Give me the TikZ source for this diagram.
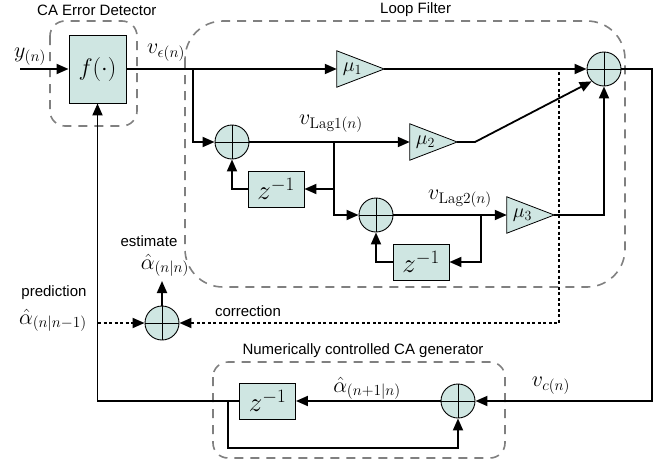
\documentclass[tikz,border=0pt]{standalone}
\usepackage{fix-cm}
\usepackage[no-math]{fontspec}
\setmainfont{Liberation Sans}
\usetikzlibrary{shapes.geometric,arrows.meta}
\definecolor{boxfill}{RGB}{207,230,226}
\definecolor{dashgray}{RGB}{128,128,128}
\begin{document}
\begin{tikzpicture}[x=1pt,y=-1pt,
  conn/.style={line width=1.8pt},
  arr/.style={conn,-{Triangle[length=12pt,width=10pt]}},
  dotarr/.style={arr,dash pattern=on 3pt off 2.5pt},
  grp/.style={draw=dashgray,line width=1.6pt,dash pattern=on 9pt off 7pt},
  blk/.style={draw,fill=boxfill,line width=0.9pt,inner sep=0pt},
  zb/.style={blk,minimum width=56pt,minimum height=36pt,font=\fontsize{27}{30}\selectfont},
  sum/.style={circle,draw,fill=boxfill,line width=0.9pt,minimum size=34pt,inner sep=0pt,
    path picture={\draw[line width=0.9pt] (path picture bounding box.north) -- (path picture bounding box.south)
      (path picture bounding box.west) -- (path picture bounding box.east);}},
  amp/.style={inner sep=0pt,minimum width=47pt,minimum height=36pt},
  ampdraw/.style={draw,fill=boxfill,line width=0.8pt,line join=miter},
  mu/.style={inner sep=0pt,font=\fontsize{20}{24}\selectfont},
  lab/.style={inner sep=0pt,font=\fontsize{22}{25}\selectfont},
  txt/.style={inner sep=0pt,font=\fontsize{15}{18}\selectfont}]
\useasboundingbox (0,0) rectangle (662,461);
% group boxes
\draw[grp,rounded corners=15pt] (50,21) rectangle (137,126);
\draw[grp,rounded corners=38pt] (185,21) rectangle (625,287);
\draw[grp,rounded corners=15pt] (213,362) rectangle (505,458);
% titles
\node[txt,anchor=west] (tca) at (37,10) {CA Error Detector};
\node[txt,anchor=west] (tlf) at (380,10) {Loop Filter};
\node[txt] (tnc) at (363,351) {Numerically controlled CA generator};
\node[txt] (tcor) at (248,311) {correction};
\node[txt] (test) at (149,241) {estimate};
\node[txt] (tpre) at (54,293) {prediction};
% blocks
\node[blk,minimum width=57pt,minimum height=68pt,font=\fontsize{24}{28}\selectfont] (f) at (97.5,69) {$f(\cdot)$};
\node[sum] (s1) at (232,142) {};
\node[zb] (z1) at (276,189) {$z^{-1}$};
\node[sum] (s2) at (376,215) {};
\node[zb] (z2) at (421,262) {$z^{-1}$};
\node[amp] (m1) at (360.5,69) {};
\node[amp] (m2) at (433.5,142) {};
\node[amp] (m3) at (530.5,215) {};
\foreach \m in {m1,m2,m3}
  \draw[ampdraw] (\m.north west) -- (\m.east) -- (\m.south west) -- cycle;
\node[mu] (mu1) at ([xshift=-8pt]m1.center) {$\mu_1$};
\node[mu] (mu2) at ([xshift=-8pt]m2.center) {$\mu_2$};
\node[mu] (mu3) at ([xshift=-8pt]m3.center) {$\mu_3$};
\node[sum] (sF) at (604,69) {};
\node[sum] (sN) at (458,401) {};
\node[zb] (z3) at (267.5,401) {$z^{-1}$};
\node[sum] (sC) at (162,323) {};
% math labels
\node[lab] (ly) at (30,57) {$y_{(n)}$};
\node[lab] (lve) at (166,53) {$v_{\epsilon(n)}$};
\node[lab] (lv1) at (331,124) {$v_{\mathrm{Lag1}(n)}$};
\node[lab] (lv2) at (460,199) {$v_{\mathrm{Lag2}(n)}$};
\node[lab] (lvc) at (551,386) {$v_{c(n)}$};
\node[lab,anchor=base] (la1) at (367,392) {$\hat{\alpha}_{(n+1|n)}$};
\node[lab,anchor=base] (la2) at (165,269) {$\hat{\alpha}_{(n|n)}$};
\node[lab,anchor=base] (la3) at (53,324) {$\hat{\alpha}_{(n|n-1)}$};
% coordinates
\coordinate (in) at (20,69);
\coordinate (b1) at (193,69);
\coordinate (b2) at (334,142);
\coordinate (b3) at (481,215);
\coordinate (k2) at (475,142);
\coordinate (rc) at (652,69);
\coordinate (b4) at (228,401);
\coordinate (lb) at (228,448);
\coordinate (dtop) at (559,72);
\coordinate (dbot) at (559,323);
\coordinate (b5) at (98,323);
\coordinate (est) at (162,281);
% connectors
\draw[arr] (in) -- (f.west);
\draw[arr] (f.east) -- (m1.west);
\draw[arr] (b1) |- (s1.west);
\draw[arr] (m1.east) -- (sF.west);
\draw[arr] (s1.east) -- (m2.west);
\draw[arr] (m2.east) -- (k2) -- (sF.225);
\draw[arr] (b2) |- (z1.east);
\draw[arr] (b2) |- (s2.west);
\draw[arr] (z1.west) -| (s1.south);
\draw[arr] (s2.east) -- (m3.west);
\draw[arr] (b3) |- (z2.east);
\draw[arr] (z2.west) -| (s2.south);
\draw[arr] (m3.east) -| (sF.south);
\draw[arr] (sF.east) -- (rc) |- (sN.east);
\draw[arr] (sN.west) -- (z3.east);
\draw[arr] (z3.west) -| (f.south);
\draw[arr] (b4) -- (lb) -| (sN.south);
\draw[dotarr] (dtop) -- (dbot) -- (sC.east);
\draw[dotarr] (b5) -- (sC.west);
\draw[arr] (sC.north) -- (est);
\end{tikzpicture}
\end{document}
